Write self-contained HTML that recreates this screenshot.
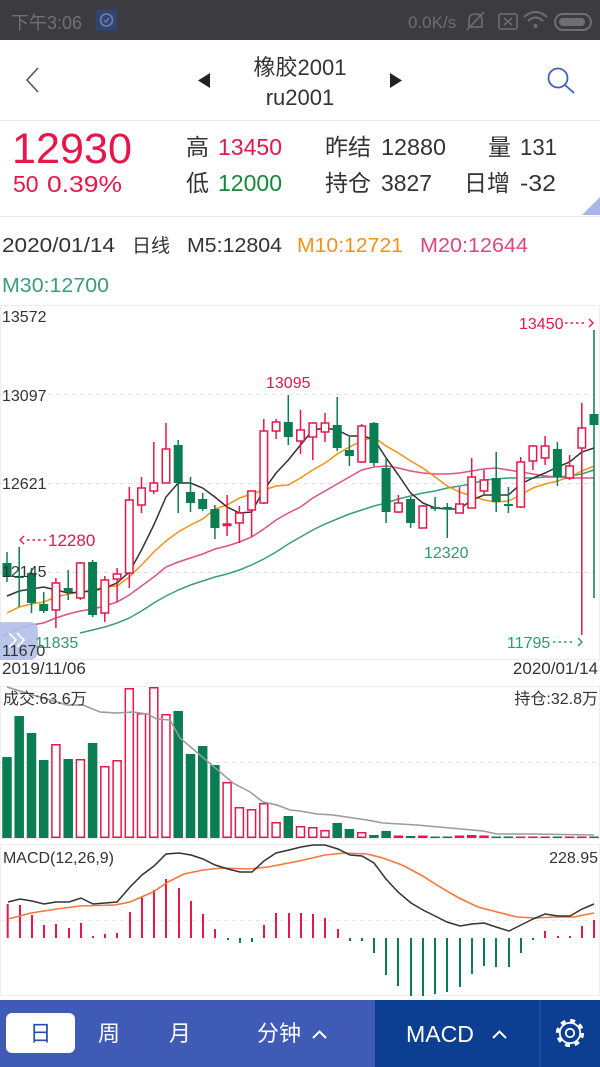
<!DOCTYPE html>
<html><head><meta charset="utf-8"><style>
html,body{margin:0;padding:0;background:#fff;}
svg{display:block;font-family:"Liberation Sans","Noto Sans CJK SC",sans-serif;}
</style></head><body>
<svg width="600" height="1067" viewBox="0 0 600 1067" xmlns="http://www.w3.org/2000/svg">
<!-- status bar -->
<rect x="0" y="0" width="600" height="40" fill="#3b3b40"/>
<text x="11" y="29" font-size="18" fill="#707075">下午3:06</text>
<rect x="96" y="9" width="21" height="22" fill="#34436b"/>
<circle cx="106.5" cy="20" r="6" fill="none" stroke="#6b7fb8" stroke-width="1.6"/>
<polyline points="104,20 106,22 109,18" fill="none" stroke="#6b7fb8" stroke-width="1.4"/>
<text x="408" y="28" font-size="17" fill="#6e6e73">0.0K/s</text>
<path d="M469,27 L469,20 Q469,14 475.5,14 Q482,14 482,20 L482,27 Z" fill="none" stroke="#6e6e73" stroke-width="1.6"/>
<line x1="467" y1="30" x2="484" y2="12" stroke="#6e6e73" stroke-width="1.6"/>
<rect x="499" y="14" width="18" height="15" rx="2" fill="none" stroke="#6e6e73" stroke-width="1.6"/>
<path d="M504,18 L512,25 M512,18 L504,25" stroke="#6e6e73" stroke-width="1.5"/>
<path d="M524,17 Q535.5,7 547,17" fill="none" stroke="#6e6e73" stroke-width="2"/>
<path d="M528,21 Q535.5,14 543,21" fill="none" stroke="#6e6e73" stroke-width="2"/>
<circle cx="535.5" cy="26" r="2" fill="#6e6e73"/>
<rect x="555" y="14" width="36" height="16" rx="8" fill="none" stroke="#6e6e73" stroke-width="2"/>
<rect x="559" y="18" width="26" height="8" rx="4" fill="#6e6e73"/>

<!-- nav header -->
<polyline points="38,68 27,80 38,92" fill="none" stroke="#555" stroke-width="1.6"/>
<polygon points="210,73 198,80.5 210,88" fill="#222"/>
<polygon points="390,73 402,80.5 390,88" fill="#222"/>
<text x="300" y="75" font-size="22" fill="#333" text-anchor="middle">橡胶2001</text>
<text x="300" y="105" font-size="22" fill="#333" text-anchor="middle">ru2001</text>
<circle cx="558" cy="78" r="9.5" fill="none" stroke="#3d5fc4" stroke-width="1.8"/>
<line x1="565" y1="85" x2="574" y2="93" stroke="#3d5fc4" stroke-width="1.8"/>
<line x1="0" y1="120.5" x2="600" y2="120.5" stroke="#eaeaea" stroke-width="1"/>

<!-- price info -->
<text x="12" y="163" font-size="43" fill="#e5174a" textLength="120" lengthAdjust="spacingAndGlyphs">12930</text>
<text x="13" y="192" font-size="23" fill="#e5174a">50</text>
<text x="47" y="192" font-size="23" fill="#e5174a" textLength="75" lengthAdjust="spacingAndGlyphs">0.39%</text>
<text x="186" y="155" font-size="23" fill="#333">高</text>
<text x="218" y="155" font-size="23" fill="#e5174a" textLength="64" lengthAdjust="spacingAndGlyphs">13450</text>
<text x="325" y="155" font-size="23" fill="#333">昨结</text>
<text x="381" y="155" font-size="23" fill="#333" textLength="65" lengthAdjust="spacingAndGlyphs">12880</text>
<text x="488" y="155" font-size="23" fill="#333">量</text>
<text x="520" y="155" font-size="23" fill="#333" textLength="37" lengthAdjust="spacingAndGlyphs">131</text>
<text x="186" y="191" font-size="23" fill="#333">低</text>
<text x="218" y="191" font-size="23" fill="#168a3c" textLength="64" lengthAdjust="spacingAndGlyphs">12000</text>
<text x="325" y="191" font-size="23" fill="#333">持仓</text>
<text x="381" y="191" font-size="23" fill="#333" textLength="51" lengthAdjust="spacingAndGlyphs">3827</text>
<text x="464" y="191" font-size="23" fill="#333">日增</text>
<text x="520" y="191" font-size="23" fill="#333" textLength="36" lengthAdjust="spacingAndGlyphs">-32</text>
<polygon points="600,197 600,215 582,215" fill="#a9b6e6"/>
<line x1="0" y1="216.5" x2="600" y2="216.5" stroke="#eaeaea" stroke-width="1"/>

<!-- MA labels -->
<text x="2" y="252" font-size="20" fill="#333" textLength="113" lengthAdjust="spacingAndGlyphs">2020/01/14</text>
<text x="132" y="252" font-size="19" fill="#333">日线</text>
<text x="187" y="252" font-size="20" fill="#333" textLength="95" lengthAdjust="spacingAndGlyphs">M5:12804</text>
<text x="297" y="252" font-size="20" fill="#f39219" textLength="106" lengthAdjust="spacingAndGlyphs">M10:12721</text>
<text x="420" y="252" font-size="20" fill="#e0457f" textLength="108" lengthAdjust="spacingAndGlyphs">M20:12644</text>
<text x="2" y="292" font-size="20" fill="#3a9e7a" textLength="107" lengthAdjust="spacingAndGlyphs">M30:12700</text>

<!-- main chart frame -->
<rect x="0.5" y="305.5" width="599" height="354" fill="none" stroke="#eeeeee" stroke-width="1"/>
<g stroke="#e3e3e3" stroke-width="1" stroke-dasharray="4,4">
<line x1="0" y1="394.5" x2="600" y2="394.5"/>
<line x1="0" y1="483.5" x2="600" y2="483.5"/>
<line x1="0" y1="572.5" x2="600" y2="572.5"/>
</g>

<!-- MA lines -->
<polyline fill="none" stroke="#3a9e7a" stroke-width="1.5" points="80,633 92.6,630 104.8,627 117.1,623 129.3,618 141.5,611 153.8,603 166,596 178.2,590 190.5,585 202.7,581 214.9,577 227.1,574 239.4,570 251.6,565 263.8,559 276.1,552 288.3,544 300.5,537 312.8,530 325,524 337.2,519 349.4,514 361.7,510 373.9,506 386.1,503 398.4,499 410.6,496 422.8,493 435.1,491 447.3,488 459.5,486 471.7,484 484,480 496.2,479 508.4,478 520.7,478 532.9,478 545.1,477 557.4,477 569.6,476 581.8,474 594,470"/>
<polyline fill="none" stroke="#e0508a" stroke-width="1.5" points="2,636 7,634 19.2,628 31.5,625 43.7,623 55.9,618 68.2,614 80.4,611 92.6,609 104.8,606 117.1,602 129.3,595 141.5,586 153.8,577 166,567 178.2,562 190.5,558 202.7,554 214.9,549 227.1,546 239.4,542 251.6,537 263.8,529 276.1,520 288.3,513 300.5,507 312.8,498 325,491 337.2,484 349.4,477 361.7,470 373.9,467 386.1,466 398.4,468 410.6,471 422.8,473 435.1,474 447.3,474 459.5,473 471.7,471 484,469 496.2,468 508.4,470 520.7,472 532.9,474 545.1,476 557.4,477 569.6,478 581.8,478 594,478"/>
<polyline fill="none" stroke="#f39219" stroke-width="1.5" points="7,613 19.2,607 31.5,604 43.7,602 55.9,597 68.2,594 80.4,592 92.6,590 104.8,587 117.1,586 129.3,577 141.5,565 153.8,552 166,541 178.2,532 190.5,525 202.7,519 214.9,509 227.1,505 239.4,498 251.6,494 263.8,490 276.1,486 288.3,485 300.5,478 312.8,470 325,463 337.2,454 349.4,447 361.7,441 373.9,437 386.1,446 398.4,453 410.6,461 422.8,468 435.1,477 447.3,486 459.5,492 471.7,496 484,500 496.2,502 508.4,501 520.7,495 532.9,488 545.1,484 557.4,481 569.6,477 581.8,471 594,466"/>
<polyline fill="none" stroke="#333" stroke-width="1.5" points="7,596 19.2,591 31.5,589 43.7,587 55.9,590 68.2,593 80.4,592 92.6,591 104.8,588 117.1,583 129.3,572 141.5,550 153.8,525 166,497 178.2,483 190.5,483 202.7,488 214.9,497 227.1,507 239.4,513 251.6,512 263.8,490 276.1,473 288.3,460 300.5,445 312.8,430 325,428 337.2,430 349.4,436 361.7,436 373.9,439 386.1,458 398.4,475 410.6,493 422.8,503 435.1,508 447.3,509 459.5,509 471.7,500 484,495 496.2,495 508.4,495 520.7,484 532.9,478 545.1,473 557.4,467 569.6,462 581.8,452 594,448"/>

<!-- red candles -->
<g stroke="#e8174a" stroke-width="1.5">
<line x1="55.9" y1="578" x2="55.9" y2="628"/><line x1="80.4" y1="562" x2="80.4" y2="600"/><line x1="104.8" y1="576" x2="104.8" y2="622"/><line x1="117.1" y1="568" x2="117.1" y2="602"/><line x1="129.3" y1="487" x2="129.3" y2="588"/><line x1="141.5" y1="477" x2="141.5" y2="513"/><line x1="153.8" y1="442" x2="153.8" y2="494"/><line x1="166" y1="423" x2="166" y2="483"/><line x1="227.1" y1="495" x2="227.1" y2="536"/><line x1="239.4" y1="506" x2="239.4" y2="543"/><line x1="251.6" y1="491" x2="251.6" y2="537"/><line x1="263.8" y1="419" x2="263.8" y2="504"/><line x1="276.1" y1="419" x2="276.1" y2="439"/><line x1="300.5" y1="410" x2="300.5" y2="454"/><line x1="312.8" y1="422" x2="312.8" y2="460"/><line x1="325" y1="413" x2="325" y2="442"/><line x1="361.7" y1="424" x2="361.7" y2="463"/><line x1="398.4" y1="495" x2="398.4" y2="513"/><line x1="422.8" y1="505" x2="422.8" y2="528"/><line x1="459.5" y1="487" x2="459.5" y2="513"/><line x1="471.7" y1="458" x2="471.7" y2="508"/><line x1="484" y1="470" x2="484" y2="494"/><line x1="520.7" y1="457" x2="520.7" y2="508"/><line x1="532.9" y1="445" x2="532.9" y2="470"/><line x1="545.1" y1="436" x2="545.1" y2="465"/><line x1="569.6" y1="455" x2="569.6" y2="480"/><line x1="581.8" y1="403" x2="581.8" y2="635"/>
</g>
<g stroke="#e8174a" stroke-width="1.5" fill="#fff">
<rect x="52.15" y="583" width="7.5" height="27"/><rect x="76.65" y="563" width="7.5" height="35"/><rect x="101.05" y="580" width="7.5" height="33"/><rect x="113.35" y="574" width="7.5" height="5"/><rect x="125.55" y="500" width="7.5" height="73"/><rect x="137.75" y="488" width="7.5" height="17"/><rect x="150.05" y="483" width="7.5" height="8"/><rect x="162.25" y="449" width="7.5" height="34"/><rect x="223.35" y="524" width="7.5" height="1.5"/><rect x="235.65" y="513" width="7.5" height="10"/><rect x="247.85" y="491" width="7.5" height="19"/><rect x="260.05" y="431" width="7.5" height="72"/><rect x="272.35" y="422" width="7.5" height="9"/><rect x="296.75" y="430" width="7.5" height="11"/><rect x="309.05" y="423" width="7.5" height="14"/><rect x="321.25" y="423" width="7.5" height="9"/><rect x="357.95" y="426" width="7.5" height="36"/><rect x="394.65" y="503" width="7.5" height="9"/><rect x="419.05" y="506" width="7.5" height="22"/><rect x="455.75" y="504" width="7.5" height="9"/><rect x="467.95" y="477" width="7.5" height="31"/><rect x="480.25" y="480" width="7.5" height="11"/><rect x="516.95" y="462" width="7.5" height="45"/><rect x="529.15" y="446" width="7.5" height="15"/><rect x="541.35" y="446" width="7.5" height="12"/><rect x="565.85" y="466" width="7.5" height="12"/><rect x="578.05" y="428" width="7.5" height="20"/>
</g>
<!-- green candles -->
<g stroke="#0a7d52" stroke-width="1.5">
<line x1="7" y1="552" x2="7" y2="582"/><line x1="19.2" y1="547" x2="19.2" y2="607"/><line x1="31.5" y1="568" x2="31.5" y2="613"/><line x1="43.7" y1="592" x2="43.7" y2="613"/><line x1="68.2" y1="570" x2="68.2" y2="600"/><line x1="92.6" y1="560" x2="92.6" y2="617"/><line x1="178.2" y1="440" x2="178.2" y2="513"/><line x1="190.5" y1="477" x2="190.5" y2="512"/><line x1="202.7" y1="493" x2="202.7" y2="511"/><line x1="214.9" y1="505" x2="214.9" y2="539"/><line x1="288.3" y1="395" x2="288.3" y2="445"/><line x1="337.2" y1="397" x2="337.2" y2="451"/><line x1="349.4" y1="437" x2="349.4" y2="466"/><line x1="373.9" y1="422" x2="373.9" y2="466"/><line x1="386.1" y1="459" x2="386.1" y2="523"/><line x1="410.6" y1="497" x2="410.6" y2="528"/><line x1="435.1" y1="497" x2="435.1" y2="511"/><line x1="447.3" y1="503" x2="447.3" y2="538"/><line x1="496.2" y1="452" x2="496.2" y2="512"/><line x1="508.4" y1="487" x2="508.4" y2="513"/><line x1="557.4" y1="442" x2="557.4" y2="486"/><line x1="594" y1="330" x2="594" y2="598"/>
</g>
<g fill="#0a7d52">
<rect x="2.5" y="563" width="9" height="14"/><rect x="14.7" y="576" width="9" height="2"/><rect x="27" y="573" width="9" height="30"/><rect x="39.2" y="604" width="9" height="7"/><rect x="63.7" y="588" width="9" height="4"/><rect x="88.1" y="562" width="9" height="53"/><rect x="173.7" y="445" width="9" height="38"/><rect x="186" y="492" width="9" height="11"/><rect x="198.2" y="499" width="9" height="10"/><rect x="210.4" y="509" width="9" height="19"/><rect x="283.8" y="422" width="9" height="15"/><rect x="332.7" y="425" width="9" height="23"/><rect x="344.9" y="450" width="9" height="6"/><rect x="369.4" y="423" width="9" height="40"/><rect x="381.6" y="468" width="9" height="44"/><rect x="406.1" y="499" width="9" height="24"/><rect x="430.6" y="507" width="9" height="2"/><rect x="442.8" y="507" width="9" height="2"/><rect x="491.7" y="478" width="9" height="24"/><rect x="503.9" y="504" width="9" height="2"/><rect x="552.9" y="449" width="9" height="28"/><rect x="589.5" y="414" width="9" height="11"/>
</g>

<!-- badge -->
<rect x="-8" y="622" width="46" height="38" rx="8" fill="#b3bfea" opacity="0.9"/>
<polyline points="9,633 16,640 9,647" fill="none" stroke="#fff" stroke-width="1.6"/>
<polyline points="17,633 24,640 17,647" fill="none" stroke="#fff" stroke-width="1.6"/>

<!-- axis labels -->
<g font-size="16" fill="#333">
<text x="2" y="322">13572</text>
<text x="2" y="401">13097</text>
<text x="2" y="489">12621</text>
<text x="2" y="577">12145</text>
<text x="2" y="656">11670</text>
</g>
<!-- markers -->
<text x="266" y="388" font-size="16" fill="#e8174a">13095</text>
<polyline points="24,536 20,540 24,544" fill="none" stroke="#e8174a" stroke-width="1.4"/>
<line x1="27" y1="540" x2="46" y2="540" stroke="#e8174a" stroke-width="1.4" stroke-dasharray="2.5,3"/>
<text x="48" y="546" font-size="17" fill="#e8174a">12280</text>
<text x="35" y="648" font-size="16" fill="#2f9a6e">11835</text>
<text x="424" y="558" font-size="16" fill="#2f9a6e">12320</text>
<text x="519" y="329" font-size="16" fill="#e8174a">13450</text>
<line x1="565" y1="323" x2="586" y2="323" stroke="#e8174a" stroke-width="1.4" stroke-dasharray="2.5,3"/>
<polyline points="589,319 593,323 589,327" fill="none" stroke="#e8174a" stroke-width="1.4"/>
<text x="507" y="648" font-size="16" fill="#2f9a6e">11795</text>
<line x1="553" y1="642" x2="575" y2="642" stroke="#2f9a6e" stroke-width="1.4" stroke-dasharray="2.5,3"/>
<polyline points="578,638 582,642 578,646" fill="none" stroke="#2f9a6e" stroke-width="1.4"/>

<!-- dates -->
<text x="2" y="674" font-size="17" fill="#333">2019/11/06</text>
<text x="598" y="674" font-size="17" fill="#333" text-anchor="end">2020/01/14</text>

<!-- volume panel -->
<rect x="0.5" y="686.5" width="599" height="152" fill="none" stroke="#eeeeee" stroke-width="1"/>
<line x1="0" y1="762.5" x2="600" y2="762.5" stroke="#e3e3e3" stroke-dasharray="4,4"/>
<g fill="#0a7d52">
<rect x="2.25" y="757" width="9.5" height="81"/><rect x="14.45" y="716" width="9.5" height="122"/><rect x="26.75" y="733" width="9.5" height="105"/><rect x="38.95" y="760" width="9.5" height="78"/><rect x="63.45" y="759" width="9.5" height="79"/><rect x="87.85" y="743" width="9.5" height="95"/><rect x="173.45" y="711" width="9.5" height="127"/><rect x="185.75" y="754" width="9.5" height="84"/><rect x="197.95" y="746" width="9.5" height="92"/><rect x="210.15" y="765" width="9.5" height="73"/><rect x="283.55" y="816" width="9.5" height="22"/><rect x="332.45" y="823" width="9.5" height="15"/><rect x="344.65" y="829" width="9.5" height="9"/><rect x="369.15" y="835" width="9.5" height="3"/><rect x="381.35" y="831" width="9.5" height="7"/><rect x="405.85" y="836" width="9.5" height="2"/><rect x="430.35" y="836.5" width="9.5" height="1.5"/><rect x="442.55" y="836.5" width="9.5" height="1.5"/><rect x="491.45" y="836.5" width="9.5" height="1.5"/><rect x="503.65" y="836.5" width="9.5" height="1.5"/><rect x="552.65" y="836.5" width="9.5" height="1.5"/><rect x="589.25" y="836.5" width="9.5" height="1.5"/>
</g>
<g stroke="#e8174a" stroke-width="1.5" fill="#fff">
<rect x="51.9" y="744.75" width="8" height="92.5"/><rect x="76.4" y="759.75" width="8" height="77.5"/><rect x="100.8" y="766.75" width="8" height="70.5"/><rect x="113.1" y="760.75" width="8" height="76.5"/><rect x="125.3" y="688.75" width="8" height="148.5"/><rect x="137.5" y="713.75" width="8" height="123.5"/><rect x="149.8" y="687.75" width="8" height="149.5"/><rect x="162" y="714.75" width="8" height="122.5"/><rect x="223.1" y="782.75" width="8" height="54.5"/><rect x="235.4" y="807.75" width="8" height="29.5"/><rect x="247.6" y="809.75" width="8" height="27.5"/><rect x="259.8" y="803.75" width="8" height="33.5"/><rect x="272.1" y="822.75" width="8" height="14.5"/><rect x="296.5" y="826.75" width="8" height="10.5"/><rect x="308.8" y="827.75" width="8" height="9.5"/><rect x="321" y="830.75" width="8" height="6.5"/><rect x="357.7" y="832.75" width="8" height="4.5"/>
</g>
<g fill="#e8174a">
<rect x="393.65" y="835.5" width="9.5" height="2.5"/><rect x="418.05" y="835.5" width="9.5" height="2.5"/><rect x="454.75" y="835.5" width="9.5" height="2.5"/><rect x="466.95" y="835" width="9.5" height="3"/><rect x="479.25" y="835.5" width="9.5" height="2.5"/><rect x="515.95" y="836.5" width="9.5" height="1.5"/><rect x="528.15" y="836.5" width="9.5" height="1.5"/><rect x="540.35" y="836.5" width="9.5" height="1.5"/><rect x="564.85" y="836.5" width="9.5" height="1.5"/><rect x="577.05" y="836.5" width="9.5" height="1.5"/>
</g>
<polyline fill="none" stroke="#9a9a9a" stroke-width="1.5" points="7,687 33,695 67,705 83,705 100,712 117,713 133,712 147,714 157,719 170,720 180,738 200,755 220,772 233,783 250,792 263,802 277,805 290,810 300,811 317,814 333,815 367,820 383,823 417,825 450,828 483,831 497,834 533,834 594,835"/>
<text x="3" y="704" font-size="16" fill="#333">成交:63.6万</text>
<text x="598" y="704" font-size="16" fill="#333" text-anchor="end">持仓:32.8万</text>

<!-- MACD panel -->
<rect x="0.5" y="844.5" width="599" height="151" fill="none" stroke="#eeeeee" stroke-width="1"/>
<line x1="0" y1="920.5" x2="600" y2="920.5" stroke="#e6e8f2" stroke-dasharray="4,4"/>
<g stroke="#e8174a" stroke-width="2">
<line x1="7.7" y1="938" x2="7.7" y2="904"/><line x1="20" y1="938" x2="20" y2="905"/><line x1="32" y1="938" x2="32" y2="915"/><line x1="44" y1="938" x2="44" y2="925"/><line x1="56" y1="938" x2="56" y2="924"/><line x1="69" y1="938" x2="69" y2="928"/><line x1="81" y1="938" x2="81" y2="923"/><line x1="93" y1="938" x2="93" y2="936"/><line x1="105" y1="938" x2="105" y2="934"/><line x1="117" y1="938" x2="117" y2="933"/><line x1="130" y1="938" x2="130" y2="912"/><line x1="142" y1="938" x2="142" y2="897"/><line x1="154" y1="938" x2="154" y2="890"/><line x1="166" y1="938" x2="166" y2="879"/><line x1="179" y1="938" x2="179" y2="888"/><line x1="191" y1="938" x2="191" y2="901"/><line x1="203" y1="938" x2="203" y2="914"/><line x1="215" y1="938" x2="215" y2="929"/><line x1="264" y1="938" x2="264" y2="925"/><line x1="276" y1="938" x2="276" y2="913"/><line x1="289" y1="938" x2="289" y2="913"/><line x1="301" y1="938" x2="301" y2="913"/><line x1="313" y1="938" x2="313" y2="914"/><line x1="325" y1="938" x2="325" y2="918"/><line x1="338" y1="938" x2="338" y2="929"/><line x1="545" y1="938" x2="545" y2="931"/><line x1="558" y1="938" x2="558" y2="936"/><line x1="570" y1="938" x2="570" y2="936"/><line x1="582" y1="938" x2="582" y2="926"/><line x1="594" y1="938" x2="594" y2="920"/>
</g>
<g stroke="#0a7d52" stroke-width="2">
<line x1="228" y1="938" x2="228" y2="940"/><line x1="240" y1="938" x2="240" y2="943"/><line x1="252" y1="938" x2="252" y2="942"/><line x1="350" y1="938" x2="350" y2="941"/><line x1="362" y1="938" x2="362" y2="941"/><line x1="374" y1="938" x2="374" y2="953"/><line x1="386" y1="938" x2="386" y2="975"/><line x1="398" y1="938" x2="398" y2="986"/><line x1="411" y1="938" x2="411" y2="996"/><line x1="423" y1="938" x2="423" y2="996"/><line x1="435" y1="938" x2="435" y2="994"/><line x1="447" y1="938" x2="447" y2="992"/><line x1="460" y1="938" x2="460" y2="987"/><line x1="472" y1="938" x2="472" y2="974"/><line x1="484" y1="938" x2="484" y2="966"/><line x1="496" y1="938" x2="496" y2="967"/><line x1="509" y1="938" x2="509" y2="967"/><line x1="521" y1="938" x2="521" y2="953"/><line x1="533" y1="938" x2="533" y2="940"/>
</g>
<polyline fill="none" stroke="#f5773a" stroke-width="1.6" points="8,919 31,913 57,909 80,906 115,905 130,902 153,892 168,882 184,874 203,870 222,868 249,869 268,867 299,861 325,855 344,853 367,854 383,858 402,865 421,875 440,887 459,898 478,907 497,912 517,917 536,918 555,917 574,917 594,913"/>
<polyline fill="none" stroke="#333" stroke-width="1.5" points="8,902 20,899 32,901 44,904 56,902 69,902 81,898 93,904 105,903 117,902 130,887 142,875 154,866 166,854 179,853 191,855 203,859 215,865 228,869 240,872 252,872 264,861 276,853 289,850 301,847 313,845 325,845 338,849 350,855 362,856 374,863 386,879 398,892 411,903 423,910 435,916 447,922 460,926 472,924 484,923 496,927 509,931 521,925 533,919 545,914 558,916 570,916 582,909 594,904"/>
<text x="3" y="863" font-size="16" fill="#333" textLength="111" lengthAdjust="spacingAndGlyphs">MACD(12,26,9)</text>
<text x="598" y="863" font-size="16" fill="#333" text-anchor="end">228.95</text>

<!-- bottom bar -->
<rect x="0" y="1000" width="375" height="67" fill="#3f5bb6"/>
<rect x="375" y="1000" width="225" height="67" fill="#0c3e92"/>
<line x1="540" y1="1000" x2="540" y2="1067" stroke="#2a559f" stroke-width="1"/>
<rect x="6" y="1013" width="69" height="40" rx="6" fill="#fff"/>
<text x="40.5" y="1041" font-size="22" fill="#2a4ea8" text-anchor="middle">日</text>
<text x="109" y="1041" font-size="22" fill="#fff" text-anchor="middle">周</text>
<text x="180" y="1041" font-size="22" fill="#fff" text-anchor="middle">月</text>
<text x="257" y="1041" font-size="22" fill="#fff">分钟</text>
<polyline points="313,1038 319.5,1031.5 326,1038" fill="none" stroke="#fff" stroke-width="2"/>
<text x="406" y="1042" font-size="23" fill="#fff" textLength="68" lengthAdjust="spacingAndGlyphs">MACD</text>
<polyline points="493,1038 499.5,1031.5 506,1038" fill="none" stroke="#fff" stroke-width="2"/>
<circle cx="570" cy="1033" r="12.5" fill="none" stroke="#fff" stroke-width="3.2" stroke-dasharray="4.9,4.9"/>
<circle cx="570" cy="1033" r="10.2" fill="#0c3e92" stroke="#fff" stroke-width="1.8"/>
<circle cx="570" cy="1033" r="4.2" fill="none" stroke="#fff" stroke-width="1.8"/>
</svg>
</body></html>
